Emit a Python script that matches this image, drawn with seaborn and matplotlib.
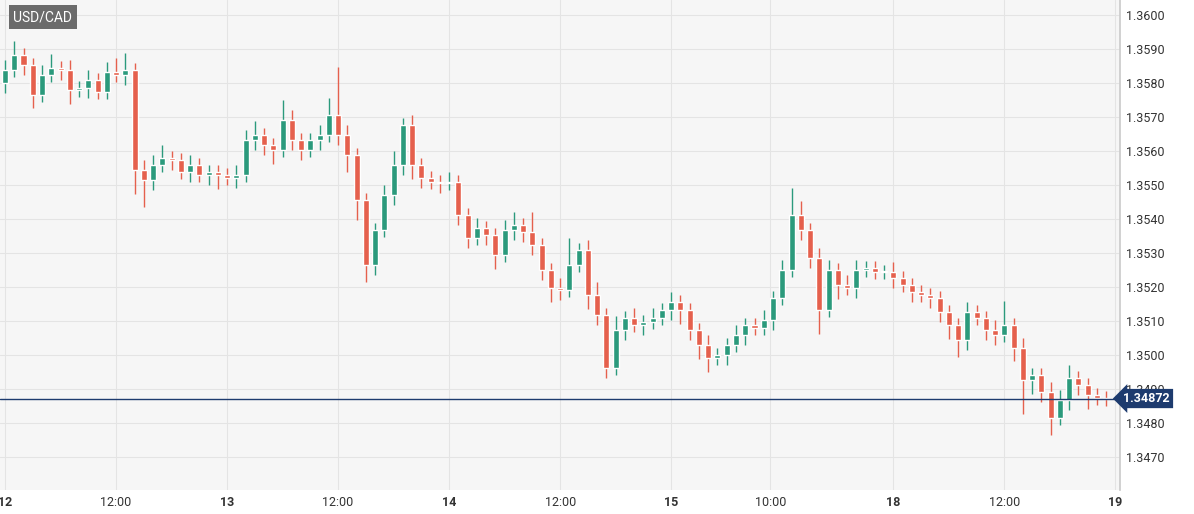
import numpy as np
import matplotlib.pyplot as plt
import seaborn as sns

# hourly closes (hours from day 12 00:00)
closes = [1.35838, 1.35882, 1.35853, 1.35765, 1.35824, 1.35844, 1.35838, 1.35779, 1.35785, 1.35809,
          1.35774, 1.35832, 1.35824, 1.35838, 1.35544, 1.35515, 1.35559, 1.35579, 1.35574, 1.35538,
          1.35559, 1.35529, 1.35538, 1.35529, 1.35521, 1.35529, 1.35632, 1.35647, 1.35618, 1.35603,
          1.35691, 1.35632, 1.35603, 1.35632, 1.35647, 1.35706, 1.35647, 1.35588, 1.35456, 1.35265,
          1.35368, 1.35471, 1.35559, 1.35676, 1.35559, 1.35521, 1.35509, 1.35506, 1.35509, 1.35412,
          1.35344, 1.35374, 1.35353, 1.35294, 1.35368, 1.35382, 1.35362, 1.35324, 1.35250, 1.35197,
          1.35191, 1.35265, 1.35309, 1.35176, 1.35118, 1.34962, 1.35074, 1.35109, 1.35088, 1.35097,
          1.35109, 1.35132, 1.35156, 1.35132, 1.35074, 1.35029, 1.34991, 1.35000, 1.35029, 1.35059,
          1.35088, 1.35079, 1.35103, 1.35168, 1.35250, 1.35412, 1.35368, 1.35285, 1.35132, 1.35250,
          1.35206, 1.35197, 1.35250, 1.35256, 1.35244, 1.35244, 1.35226, 1.35206, 1.35185, 1.35176,
          1.35168, 1.35126, 1.35088, 1.35044, 1.35126, 1.35109, 1.35074, 1.35059, 1.35088, 1.35021,
          1.34926, 1.34941, 1.34891, 1.34815, 1.34868, 1.34932, 1.34912, 1.34882, 1.34874, 1.34871]
first_open = 1.35800
# wick lengths in pips above max(open, close) and below min(open, close)
wick_up = [3, 4, 2, 2, 3, 4, 2, 3, 2, 3, 2, 3, 4, 5, 2, 3, 3, 4, 2, 2,
           3, 2, 2, 2, 2, 3, 3, 4, 2, 2, 6, 3, 2, 2, 3, 5, 14, 3, 2, 2,
           2, 3, 4, 2, 3, 2, 2, 2, 3, 2, 2, 3, 2, 2, 3, 4, 2, 6, 2, 2,
           3, 8, 2, 3, 4, 2, 4, 2, 3, 2, 3, 2, 3, 2, 2, 2, 3, 2, 2, 3,
           2, 2, 3, 2, 3, 8, 4, 2, 3, 3, 2, 3, 3, 2, 2, 2, 3, 2, 2, 2,
           2, 2, 2, 2, 3, 2, 2, 3, 7, 2, 3, 2, 2, 3, 3, 4, 2, 2, 2, 2]
wick_dn = [3, 2, 3, 4, 2, 2, 3, 4, 2, 3, 2, 2, 2, 3, 7, 8, 3, 2, 3, 2,
           3, 2, 3, 4, 2, 3, 2, 3, 3, 4, 2, 3, 3, 2, 3, 2, 3, 5, 6, 5,
           3, 2, 3, 3, 4, 3, 2, 3, 2, 3, 3, 2, 3, 4, 2, 3, 3, 3, 3, 4,
           3, 2, 2, 4, 3, 3, 2, 3, 2, 3, 2, 2, 3, 4, 3, 4, 4, 2, 3, 2,
           3, 2, 2, 3, 2, 2, 3, 3, 7, 2, 4, 2, 3, 2, 2, 2, 3, 2, 3, 2,
           3, 3, 4, 5, 3, 2, 3, 3, 2, 4, 10, 4, 3, 5, 2, 3, 3, 4, 2, 2]
tick_hours = [0, 12, 24, 36, 48, 60, 72, 82.7, 96, 108, 120]
tick_labels = ['12', '12:00', '13', '12:00', '14', '12:00', '15', '10:00', '18', '12:00', '19']
last_price = 1.34872

sns.set_theme(style='whitegrid')
plt.rcParams['font.family'] = ['Roboto', 'DejaVu Sans']

closes = np.array(closes)
opens = np.concatenate([[first_open], closes[:-1]])
highs = np.maximum(opens, closes) + np.array(wick_up) * 0.0001
lows = np.minimum(opens, closes) - np.array(wick_dn) * 0.0001
hours = np.arange(len(closes))
up = closes >= opens
colors = np.where(up, '#2b9a7c', '#e5604d')

fig = plt.figure(figsize=(11.94, 5.14), dpi=100)
ax = fig.add_axes([0, 24 / 514, 1120 / 1194, 490 / 514])
ax.set_facecolor('#f6f6f6')
fig.patch.set_facecolor('white')

ax.vlines(hours, lows, highs, colors=colors, linewidth=1, zorder=2)
body_h = np.maximum(np.abs(closes - opens), 0.00003)
ax.bar(hours, body_h, bottom=np.minimum(opens, closes), width=0.65, color=colors, zorder=3)

ax.axhline(last_price, color='#1d3b6e', linewidth=1, zorder=4)

ax.set_xlim(-0.54, 120.5)
ax.set_ylim(1.34603, 1.36044)
ax.yaxis.tick_right()
yt = np.arange(1.3470, 1.36005, 0.001)
ax.set_yticks(yt)
ax.set_yticklabels([f'{v:.4f}' for v in yt], fontsize=9, color='#333333')
ax.set_xticks(tick_hours)
ax.set_xticklabels(tick_labels, fontsize=9, color='#333333')
for lab in ax.get_xticklabels():
    if ':' not in lab.get_text():
        lab.set_fontweight('bold')
ax.tick_params(axis='both', length=0, pad=4)
ax.grid(color='#e4e4e4', linewidth=0.8)
for s in ax.spines.values():
    s.set_visible(False)
ax.spines['right'].set_visible(True)
ax.spines['right'].set_color('#cccccc')

ax.text(1.003, last_price, f'{last_price:.5f}', transform=ax.get_yaxis_transform(),
        va='center', ha='left', fontsize=9, fontweight='bold', color='white',
        bbox=dict(boxstyle='larrow,pad=0.25', fc='#1d3b6e', ec='none'), zorder=5)
ax.text(0.012, 0.965, 'USD/CAD', transform=ax.transAxes, va='center', ha='left',
        fontsize=10, color='white',
        bbox=dict(boxstyle='square,pad=0.35', fc='#6b6b6b', ec='none'), zorder=5)

fig.savefig('out.png', dpi=100)
